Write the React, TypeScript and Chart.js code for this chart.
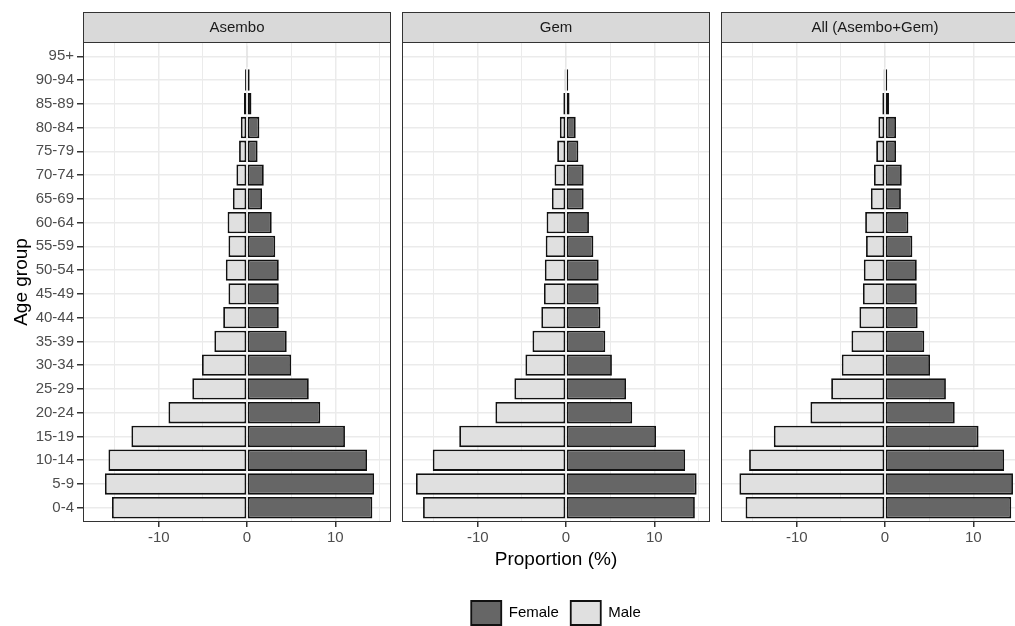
import React, { useEffect, useRef } from 'react';
import { Chart, registerables } from 'chart.js';

Chart.register(...registerables);

const AGE_GROUPS = ['0-4', '5-9', '10-14', '15-19', '20-24', '25-29', '30-34', '35-39', '40-44', '45-49',
  '50-54', '55-59', '60-64', '65-69', '70-74', '75-79', '80-84', '85-89', '90-94', '95+'];

const PANEL_TITLES = ['Asembo', 'Gem', 'All (Asembo+Gem)'];

const ASEMBO_FEMALE = [14.2, 14.4, 13.6, 11.1, 8.3, 7.0, 5.0, 4.5, 3.6, 3.6, 3.6, 3.2, 2.8, 1.7, 1.9, 1.2, 1.4, 0.5, 0.3, 0.12];
const ASEMBO_MALE = [-15.3, -16.1, -15.7, -13.1, -8.9, -6.2, -5.1, -3.7, -2.7, -2.1, -2.4, -2.1, -2.2, -1.6, -1.2, -0.9, -0.7, -0.35, -0.22, -0.1];

const GEM_FEMALE = [14.6, 14.8, 13.5, 10.2, 7.5, 6.8, 5.2, 4.45, 3.9, 3.7, 3.7, 3.1, 2.6, 2.0, 2.0, 1.4, 1.1, 0.4, 0.25, 0.1];
const GEM_MALE = [-16.2, -17.0, -15.1, -12.1, -8.0, -5.85, -4.6, -3.8, -2.8, -2.5, -2.4, -2.3, -2.2, -1.6, -1.3, -1.0, -0.7, -0.3, -0.15, -0.1];

const ALL_FEMALE = [14.3, 14.5, 13.5, 10.6, 7.9, 6.9, 5.1, 4.45, 3.7, 3.6, 3.6, 3.1, 2.65, 1.8, 1.9, 1.25, 1.25, 0.45, 0.25, 0.1];
const ALL_MALE = [-15.8, -16.5, -15.4, -12.6, -8.45, -6.1, -4.9, -3.8, -2.9, -2.5, -2.4, -2.15, -2.25, -1.6, -1.25, -1.0, -0.75, -0.3, -0.15, -0.1];

const X_LABELED_TICKS = [-10, 0, 10];

const FONT = '"Liberation Sans", Arial, Helvetica, sans-serif';
const FEMALE_COLOR = '#666666';
const MALE_COLOR = '#e0e0e0';

const stripPlugin = {
  id: 'strip',
  afterDraw(chart: any, _args: any, opts: any) {
    const { ctx, chartArea: a } = chart;
    const h = 30;
    ctx.save();
    ctx.lineWidth = 1;
    ctx.strokeStyle = '#333333';
    ctx.strokeRect(a.left + 0.5, a.top + 0.5, a.width - 1, a.height - 1);
    ctx.fillStyle = '#d9d9d9';
    ctx.fillRect(a.left, a.top - h, a.width, h);
    ctx.strokeRect(a.left + 0.5, a.top - h + 0.5, a.width - 1, h);
    ctx.fillStyle = '#1a1a1a';
    ctx.font = '15px ' + FONT;
    ctx.textAlign = 'center';
    ctx.textBaseline = 'middle';
    ctx.fillText(opts.text, (a.left + a.right) / 2, a.top - h / 2 + 1);
    ctx.restore();
  },
};

function buildConfig(panel: number, female: number[], male: number[]): any {
  const first = panel === 0;
  const middle = panel === 1;
  const pads = [
    { left: 0, right: 5 },
    { left: 6, right: 6 },
    { left: 5, right: 7 },
  ][panel];
  const barStyle = {
    borderColor: '#111111',
    borderWidth: 1.8,
    borderSkipped: false,
    grouped: false,
    barPercentage: 0.9,
    categoryPercentage: 1,
  };
  return {
    type: 'bar',
    data: {
      datasets: [
        {
          label: 'Female',
          data: female.map((v, i) => ({ x: v, y: i })),
          backgroundColor: FEMALE_COLOR,
          ...barStyle,
        },
        {
          label: 'Male',
          data: male.map((v, i) => ({ x: v, y: i })),
          backgroundColor: MALE_COLOR,
          ...barStyle,
        },
      ],
    },
    options: {
      indexAxis: 'y',
      animation: false,
      responsive: false,
      devicePixelRatio: 1,
      layout: {
        padding: { top: 30, bottom: middle ? 17 : 100, left: pads.left, right: pads.right },
      },
      scales: {
        x: {
          type: 'linear',
          min: -18.584,
          max: 16.316,
          offset: false,
          border: { display: false },
          grid: {
            offset: false,
            color: '#ebebeb',
            lineWidth: (c: any) => (c.tick && c.tick.value % 10 === 0 ? 1.5 : 1),
            tickColor: (c: any) => (c.tick && X_LABELED_TICKS.includes(c.tick.value) ? '#333333' : 'rgba(0,0,0,0)'),
            tickLength: 5,
            drawTicks: true,
          },
          ticks: {
            stepSize: 5,
            includeBounds: false,
            autoSkip: false,
            maxRotation: 0,
            padding: 2,
            color: '#4d4d4d',
            font: { family: FONT, size: 15 },
            callback: (v: number) => (X_LABELED_TICKS.includes(v) ? String(v) : ''),
          },
          title: {
            display: middle,
            text: 'Proportion (%)',
            color: '#000000',
            font: { family: FONT, size: 19 },
            padding: { top: 0, bottom: 17.6 },
          },
          afterFit: (s: any) => {
            s.height = middle ? 67 : 30;
          },
        },
        y: {
          type: 'linear',
          min: -0.6,
          max: 19.6,
          offset: false,
          border: { display: false },
          grid: {
            offset: false,
            color: '#ebebeb',
            lineWidth: 1.5,
            tickColor: '#333333',
            tickLength: 6,
            drawTicks: first,
          },
          ticks: {
            display: first,
            stepSize: 1,
            includeBounds: false,
            autoSkip: false,
            padding: 3,
            color: '#4d4d4d',
            font: { family: FONT, size: 15 },
            callback: (v: number) => AGE_GROUPS[v] ?? '',
          },
          title: {
            display: first,
            text: 'Age group',
            color: '#000000',
            font: { family: FONT, size: 19 },
            padding: { top: 10, bottom: 0 },
          },
          afterFit: (s: any) => {
            s.width = first ? 83 : 0;
          },
        },
      },
      plugins: {
        strip: { text: PANEL_TITLES[panel] },
        tooltip: { enabled: false },
        legend: {
          display: middle,
          position: 'bottom',
          labels: {
            boxWidth: 30,
            boxHeight: 24,
            padding: 12,
            color: '#000000',
            font: { family: FONT, size: 15 },
          },
        },
      },
    },
    plugins: [stripPlugin],
  };
}

export default function App() {
  const ref1 = useRef<HTMLCanvasElement>(null);
  const ref2 = useRef<HTMLCanvasElement>(null);
  const ref3 = useRef<HTMLCanvasElement>(null);

  useEffect(() => {
    document.body.style.margin = '0';
    const charts = [
      new Chart(ref1.current as HTMLCanvasElement, buildConfig(0, ASEMBO_FEMALE, ASEMBO_MALE)),
      new Chart(ref2.current as HTMLCanvasElement, buildConfig(1, GEM_FEMALE, GEM_MALE)),
      new Chart(ref3.current as HTMLCanvasElement, buildConfig(2, ALL_FEMALE, ALL_MALE)),
    ];
    return () => charts.forEach((c) => c.destroy());
  }, []);

  return (
    <div style={{ position: 'fixed', left: 0, top: 0, width: 1015, height: 626, overflow: 'hidden', background: '#ffffff' }}>
      <canvas ref={ref1} width={396} height={640} style={{ position: 'absolute', left: 0, top: 12 }} />
      <canvas ref={ref2} width={320} height={640} style={{ position: 'absolute', left: 396, top: 12 }} />
      <canvas ref={ref3} width={320} height={640} style={{ position: 'absolute', left: 716, top: 12 }} />
    </div>
  );
}
